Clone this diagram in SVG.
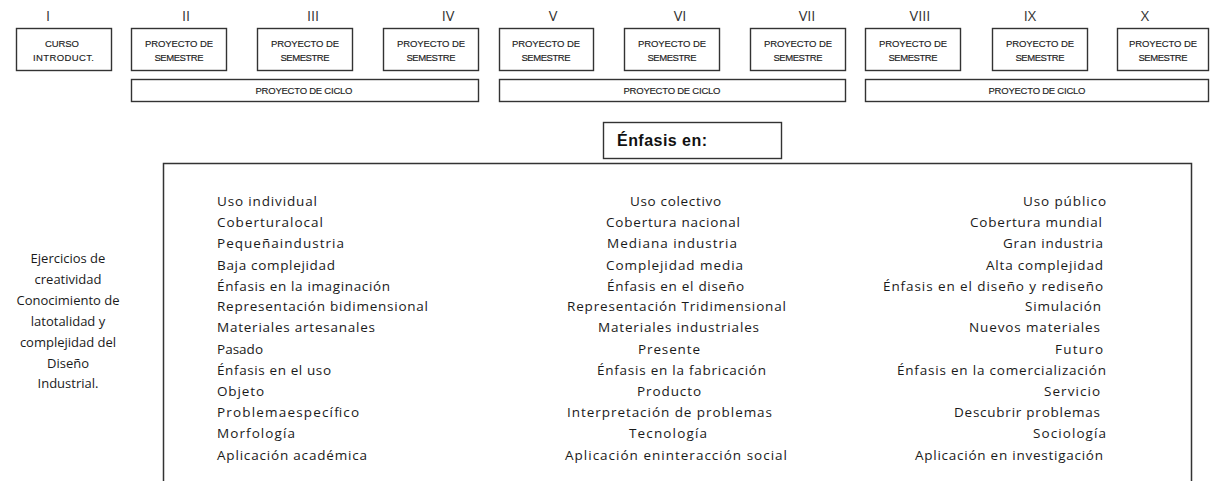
<svg xmlns="http://www.w3.org/2000/svg" width="1210" height="481" viewBox="0 0 1210 481">
<style>
.bx{fill:#fff;stroke:#333;stroke-width:1.4}
.big{fill:#fff;stroke:#333;stroke-width:1.5}
.rn{font-family:"Open Sans","Liberation Sans",sans-serif;font-size:14.5px;fill:#333;text-anchor:middle}
.sm{font-family:"Liberation Sans",Arial,sans-serif;font-size:9.5px;fill:#222;text-anchor:middle;stroke:#222;stroke-width:0.15}
.t{font-family:"Open Sans","Liberation Sans",sans-serif;font-size:13.5px;fill:#1a1a1a}
.lt{font-family:"Open Sans","Liberation Sans",sans-serif;font-size:13px;fill:#1a1a1a;text-anchor:middle}
.hd{font-family:"Liberation Sans",Arial,sans-serif;font-size:16px;font-weight:bold;fill:#111}
</style>
<rect width="1210" height="481" fill="#fff"/>
<g id="numerals">
<text class="rn" x="48" y="21">I</text>
<text class="rn" x="186" y="21">II</text>
<text class="rn" x="313" y="21">III</text>
<text class="rn" x="448" y="21">IV</text>
<text class="rn" x="553" y="21">V</text>
<text class="rn" x="680" y="21">VI</text>
<text class="rn" x="807" y="21">VII</text>
<text class="rn" x="920" y="21">VIII</text>
<text class="rn" x="1030" y="21">IX</text>
<text class="rn" x="1145" y="21">X</text>
</g>
<g id="sem1"><rect class="bx" x="16.5" y="28.5" width="95" height="42"/><text class="sm" x="62" y="47" textLength="34">CURSO</text><text class="sm" x="63.5" y="61" textLength="61">INTRODUCT.</text></g>
<g id="sem2"><rect class="bx" x="131.5" y="28.5" width="95" height="42"/><text class="sm" x="179" y="47" textLength="68">PROYECTO DE</text><text class="sm" x="179" y="61" textLength="49">SEMESTRE</text></g>
<g id="sem3"><rect class="bx" x="257.5" y="28.5" width="95" height="42"/><text class="sm" x="305" y="47" textLength="68">PROYECTO DE</text><text class="sm" x="305" y="61" textLength="49">SEMESTRE</text></g>
<g id="sem4"><rect class="bx" x="383.5" y="28.5" width="95" height="42"/><text class="sm" x="431" y="47" textLength="68">PROYECTO DE</text><text class="sm" x="431" y="61" textLength="49">SEMESTRE</text></g>
<g id="sem5"><rect class="bx" x="499.5" y="28.5" width="94" height="42"/><text class="sm" x="546" y="47" textLength="68">PROYECTO DE</text><text class="sm" x="546" y="61" textLength="49">SEMESTRE</text></g>
<g id="sem6"><rect class="bx" x="624.5" y="28.5" width="95" height="42"/><text class="sm" x="672" y="47" textLength="68">PROYECTO DE</text><text class="sm" x="672" y="61" textLength="49">SEMESTRE</text></g>
<g id="sem7"><rect class="bx" x="750.5" y="28.5" width="95" height="42"/><text class="sm" x="798" y="47" textLength="68">PROYECTO DE</text><text class="sm" x="798" y="61" textLength="49">SEMESTRE</text></g>
<g id="sem8"><rect class="bx" x="865.5" y="28.5" width="95" height="42"/><text class="sm" x="913" y="47" textLength="68">PROYECTO DE</text><text class="sm" x="913" y="61" textLength="49">SEMESTRE</text></g>
<g id="sem9"><rect class="bx" x="992.5" y="28.5" width="95" height="42"/><text class="sm" x="1040" y="47" textLength="68">PROYECTO DE</text><text class="sm" x="1040" y="61" textLength="49">SEMESTRE</text></g>
<g id="sem10"><rect class="bx" x="1117.5" y="28.5" width="91" height="42"/><text class="sm" x="1163" y="47" textLength="68">PROYECTO DE</text><text class="sm" x="1163" y="61" textLength="49">SEMESTRE</text></g>
<g id="ciclo1"><rect class="bx" x="131.5" y="79.5" width="347" height="22"/><text class="sm" x="304" y="94" textLength="97">PROYECTO DE CICLO</text></g>
<g id="ciclo2"><rect class="bx" x="499.5" y="79.5" width="346" height="22"/><text class="sm" x="672" y="94" textLength="97">PROYECTO DE CICLO</text></g>
<g id="ciclo3"><rect class="bx" x="865.5" y="79.5" width="343" height="22"/><text class="sm" x="1037" y="94" textLength="97">PROYECTO DE CICLO</text></g>
<g id="enfasis"><rect class="bx" x="603.5" y="122.5" width="178" height="36"/><text class="hd" x="617" y="146" textLength="90">Énfasis en:</text></g>
<g id="left">
<text class="lt" x="68" y="263">Ejercicios de</text>
<text class="lt" x="68" y="284">creatividad</text>
<text class="lt" x="68" y="305">Conocimiento de</text>
<text class="lt" x="68" y="326">latotalidad  y</text>
<text class="lt" x="68" y="347">complejidad del</text>
<text class="lt" x="68" y="368">Diseño</text>
<text class="lt" x="68" y="388">Industrial.</text>
</g>
<g id="main">
<path class="big" d="M163.5,490 V163.5 H1191.5 V490"/>
<g id="col1">
<text class="t" x="217" y="206" textLength="100">Uso individual</text>
<text class="t" x="217" y="227" textLength="106">Coberturalocal</text>
<text class="t" x="217" y="248" textLength="127">Pequeñaindustria</text>
<text class="t" x="217" y="270" textLength="118">Baja complejidad</text>
<text class="t" x="217" y="291" textLength="173">Énfasis en la imaginación</text>
<text class="t" x="217" y="311" textLength="211">Representación bidimensional</text>
<text class="t" x="217" y="332" textLength="158">Materiales artesanales</text>
<text class="t" x="217" y="354" textLength="46">Pasado</text>
<text class="t" x="217" y="375" textLength="114">Énfasis en el uso</text>
<text class="t" x="217" y="396" textLength="47">Objeto</text>
<text class="t" x="217" y="417" textLength="142">Problemaespecífico</text>
<text class="t" x="217" y="438" textLength="78">Morfología</text>
<text class="t" x="217" y="460" textLength="150">Aplicación académica</text>
</g>
<g id="col2">
<text class="t" x="630" y="206" textLength="91">Uso colectivo</text>
<text class="t" x="606" y="227" textLength="134">Cobertura nacional</text>
<text class="t" x="607" y="248" textLength="130">Mediana industria</text>
<text class="t" x="606" y="270" textLength="137">Complejidad media</text>
<text class="t" x="607" y="291" textLength="137">Énfasis en el diseño</text>
<text class="t" x="567" y="311" textLength="219">Representación Tridimensional</text>
<text class="t" x="598" y="332" textLength="161">Materiales industriales</text>
<text class="t" x="638" y="354" textLength="62">Presente</text>
<text class="t" x="597" y="375" textLength="169">Énfasis en la fabricación</text>
<text class="t" x="637" y="396" textLength="64">Producto</text>
<text class="t" x="567" y="417" textLength="205">Interpretación de problemas</text>
<text class="t" x="629" y="438" textLength="78">Tecnología</text>
<text class="t" x="565" y="460" textLength="222">Aplicación eninteracción social</text>
</g>
<g id="col3">
<text class="t" x="1023" y="206" textLength="83">Uso público</text>
<text class="t" x="970" y="227" textLength="132">Cobertura mundial</text>
<text class="t" x="1003" y="248" textLength="100">Gran industria</text>
<text class="t" x="986" y="270" textLength="117">Alta complejidad</text>
<text class="t" x="883" y="291" textLength="220">Énfasis  en el diseño y rediseño</text>
<text class="t" x="1025" y="311" textLength="76">Simulación</text>
<text class="t" x="969" y="332" textLength="131">Nuevos materiales</text>
<text class="t" x="1055" y="354" textLength="48">Futuro</text>
<text class="t" x="897" y="375" textLength="209">Énfasis en la comercialización</text>
<text class="t" x="1044" y="396" textLength="56">Servicio</text>
<text class="t" x="954" y="417" textLength="146">Descubrir problemas</text>
<text class="t" x="1033" y="438" textLength="73">Sociología</text>
<text class="t" x="915" y="460" textLength="188">Aplicación en investigación</text>
</g>
</g>
</svg>
